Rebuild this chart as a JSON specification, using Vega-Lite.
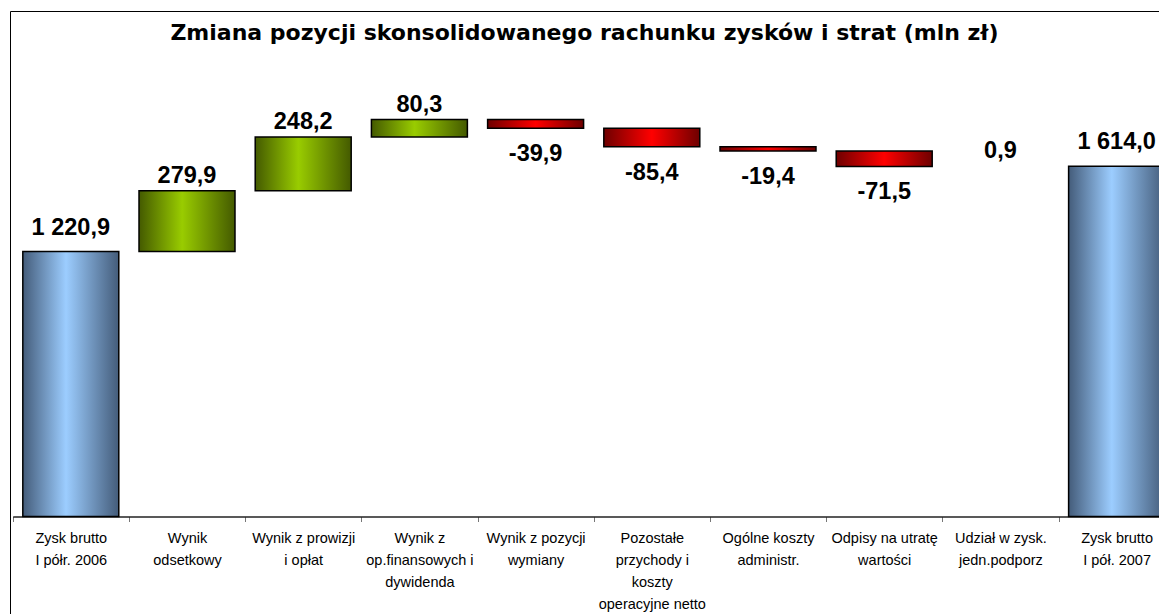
{
  "$schema": "https://vega.github.io/schema/vega-lite/v6.json",
  "width": 1149,
  "height": 603,
  "autosize": {"type": "none"},
  "padding": {"left": 10, "top": 11, "right": 0, "bottom": 0},
  "background": "white",
  "config": {"view": {"stroke": "#000", "strokeWidth": 1}, "font": "Liberation Sans"},
  "title": {
    "text": "Zmiana pozycji skonsolidowanego rachunku zysków i strat (mln zł)",
    "fontSize": 22, "fontWeight": "bold", "font": "DejaVu Sans", "color": "#000",
    "anchor": "middle", "frame": "group", "baseline": "alphabetic", "offset": -51
  },
  "data": {
    "values": [
      {"cat": "Zysk brutto|I półr. 2006", "start": 0, "end": 1220.9, "type": "total", "lab": "1 220,9"},
      {"cat": "Wynik|odsetkowy", "start": 1220.9, "end": 1500.8, "type": "pos", "lab": "279,9"},
      {"cat": "Wynik z prowizji|i opłat", "start": 1500.8, "end": 1749.0, "type": "pos", "lab": "248,2"},
      {"cat": "Wynik z|op.finansowych i|dywidenda", "start": 1749.0, "end": 1829.3, "type": "pos", "lab": "80,3"},
      {"cat": "Wynik z pozycji|wymiany", "start": 1829.3, "end": 1789.4, "type": "neg", "lab": "-39,9"},
      {"cat": "Pozostałe|przychody i|koszty|operacyjne netto", "start": 1789.4, "end": 1704.0, "type": "neg", "lab": "-85,4"},
      {"cat": "Ogólne koszty|administr.", "start": 1704.0, "end": 1684.6, "type": "neg", "lab": "-19,4"},
      {"cat": "Odpisy na utratę|wartości", "start": 1684.6, "end": 1613.1, "type": "neg", "lab": "-71,5"},
      {"cat": "Udział w zysk.|jedn.podporz", "start": 1613.1, "end": 1614.0, "type": "tiny", "lab": "0,9"},
      {"cat": "Zysk brutto|I pół. 2007", "start": 0, "end": 1614.0, "type": "total", "lab": "1 614,0"}
    ]
  },
  "encoding": {
    "x": {
      "field": "cat", "type": "nominal",
      "sort": ["Zysk brutto|I półr. 2006", "Wynik|odsetkowy", "Wynik z prowizji|i opłat", "Wynik z|op.finansowych i|dywidenda", "Wynik z pozycji|wymiany", "Pozostałe|przychody i|koszty|operacyjne netto", "Ogólne koszty|administr.", "Odpisy na utratę|wartości", "Udział w zysk.|jedn.podporz", "Zysk brutto|I pół. 2007"],
      "scale": {"range": [2.7, 1164.7], "paddingInner": 0, "paddingOuter": 0},
      "axis": {
        "title": null, "orient": "bottom", "offset": -97.5,
        "domainColor": "#222", "domainWidth": 1.5,
        "tickColor": "#777", "tickSize": 5, "tickWidth": 1, "tickBand": "extent",
        "labelAngle": 0, "labelFontSize": 14.5, "labelFont": "Liberation Sans", "labelColor": "#000",
        "labelLineHeight": 22, "labelPadding": 21, "labelBaseline": "alphabetic",
        "labelExpr": "split(datum.label, '|')", "labelLimit": 0, "labelOverlap": false
      }
    }
  },
  "layer": [
    {
      "transform": [{"filter": "datum.type === 'total'"}],
      "mark": {"type": "bar", "width": {"band": 0.826}, "stroke": "#000", "strokeWidth": 1.5,
        "fill": {"gradient": "linear", "x1": 0, "y1": 0, "x2": 1, "y2": 0,
          "stops": [{"offset": 0, "color": "#445c7a"}, {"offset": 0.45, "color": "#9ccdff"}, {"offset": 1, "color": "#445c7a"}]}},
      "encoding": {
        "y": {"field": "start", "type": "quantitative", "scale": {"domain": [-449.3, 2329.5], "nice": false, "zero": false}, "axis": null},
        "y2": {"field": "end"}
      }
    },
    {
      "transform": [{"filter": "datum.type === 'pos'"}],
      "mark": {"type": "bar", "width": {"band": 0.826}, "stroke": "#000", "strokeWidth": 1.5,
        "fill": {"gradient": "linear", "x1": 0, "y1": 0, "x2": 1, "y2": 0,
          "stops": [{"offset": 0, "color": "#445a00"}, {"offset": 0.45, "color": "#99cc00"}, {"offset": 1, "color": "#445a00"}]}},
      "encoding": {
        "y": {"field": "start", "type": "quantitative"},
        "y2": {"field": "end"}
      }
    },
    {
      "transform": [{"filter": "datum.type === 'neg'"}],
      "mark": {"type": "bar", "width": {"band": 0.826}, "stroke": "#000", "strokeWidth": 1.5,
        "fill": {"gradient": "linear", "x1": 0, "y1": 0, "x2": 1, "y2": 0,
          "stops": [{"offset": 0, "color": "#6e0000"}, {"offset": 0.5, "color": "#ff0000"}, {"offset": 1, "color": "#6e0000"}]}},
      "encoding": {
        "y": {"field": "start", "type": "quantitative"},
        "y2": {"field": "end"}
      }
    },
    {
      "transform": [{"filter": "datum.type === 'total'"}],
      "mark": {"type": "text", "font": "Liberation Sans", "fontSize": 23.5, "fontWeight": "bold", "color": "#000", "baseline": "alphabetic", "dy": -17},
      "encoding": {"y": {"field": "end", "type": "quantitative"}, "text": {"field": "lab"}}
    },
    {
      "transform": [{"filter": "datum.type === 'pos' || datum.type === 'tiny'"}],
      "mark": {"type": "text", "font": "Liberation Sans", "fontSize": 23.5, "fontWeight": "bold", "color": "#000", "baseline": "alphabetic", "dy": -8},
      "encoding": {"y": {"field": "end", "type": "quantitative"}, "text": {"field": "lab"}}
    },
    {
      "transform": [{"filter": "datum.type === 'neg'"}],
      "mark": {"type": "text", "font": "Liberation Sans", "fontSize": 23.5, "fontWeight": "bold", "color": "#000", "baseline": "alphabetic", "dy": 33},
      "encoding": {"y": {"field": "end", "type": "quantitative"}, "text": {"field": "lab"}}
    }
  ]
}
